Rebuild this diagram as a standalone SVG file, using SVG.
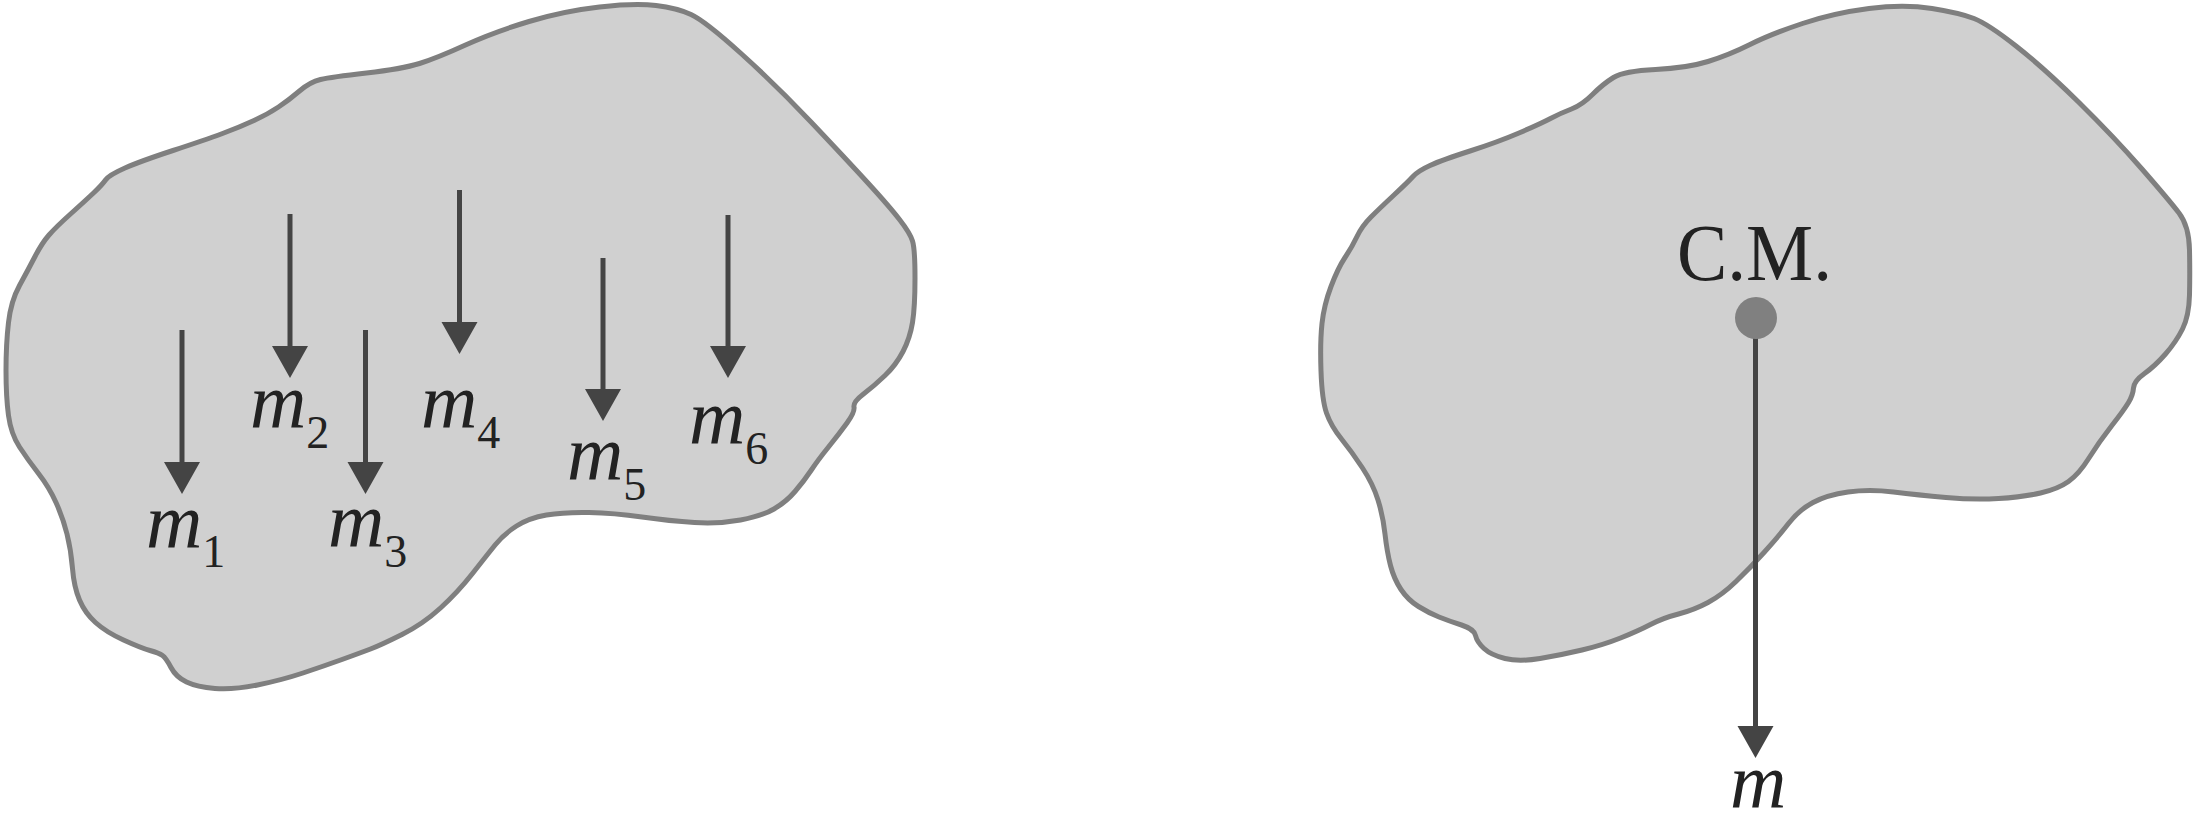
<svg xmlns="http://www.w3.org/2000/svg" width="2196" height="825" viewBox="0 0 2196 825">
<style>
.blob{fill:#d0d0d0;stroke:#7f7f7f;stroke-width:5;stroke-linejoin:round}
.shaft{stroke:#444;stroke-width:5;fill:none}
.head{fill:#444}
.lbl{font-size:78px;font-style:italic;fill:#222}
.sub{font-style:normal;font-size:46px}
.cm{font-size:80px;fill:#222}
</style>
<defs>
<path id="ah" class="head" d="M-18,-32 L18,-32 L0,0 Z"/>
</defs>
<rect width="2196" height="825" fill="#fff"/>
<g id="body-left">
<path class="blob" d="M105.5,180 Q109,175 125,168 Q141,161 173,150.5 Q205,140 222.5,133.5 Q240,127 254,120.5 Q268,114 278.5,107 Q289,100 299.5,91 Q310,82 320.5,79.5 Q331,77 366.5,73 Q402,69 419.5,63.5 Q437,58 465.5,45 Q494,32 529,21.5 Q564,11 599.5,7 Q635,3 656,5.5 Q677,8 691,14.5 Q705,21 740.5,53 Q776,85 811,122 Q846,159 867.5,182.5 Q889,206 899.5,219.5 Q910,233 912.5,241 Q915,249 915,278 Q915,307 912.5,322.5 Q910,338 903,351.5 Q896,365 885,375.5 Q874,386 863.5,394 Q853,402 854,407 Q855,412 847,423 Q839,434 828.5,447 Q818,460 811,470.5 Q804,481 795,491.5 Q786,502 774,509 Q762,516 740.5,520 Q719,524 694.5,522.5 Q670,521 642,517 Q614,513 589,512.5 Q564,512 546.5,515 Q529,518 516.5,526 Q504,534 495.5,544.5 Q487,555 472.5,573.5 Q458,592 440.5,608 Q423,624 402,634.5 Q381,645 370.5,649 Q360,653 342,659.5 Q324,666 303,673 Q282,680 257.5,685 Q233,690 215,688.5 Q197,687 186.5,682 Q176,677 171,667.5 Q166,658 162.5,655.5 Q159,653 150,650.5 Q141,648 123.5,640 Q106,632 95.5,622.5 Q85,613 79.5,600 Q74,587 72.5,568.5 Q71,550 67,534 Q63,518 56,502.5 Q49,487 38.5,473.5 Q28,460 19.5,447 Q11,434 8.5,415.5 Q6,397 6,370.5 Q6,344 8.5,322.5 Q11,301 19.5,285.5 Q28,270 35,256.5 Q42,243 49,235 Q56,227 70.5,214 Q85,201 93.5,193 Q102,185 105.5,180 Z"/>
</g>
<g id="body-right">
<path class="blob" d="M1413,176.5 Q1418,171 1430,165.5 Q1442,160 1470,151 Q1498,142 1519,133 Q1540,124 1550.5,118.5 Q1561,113 1571.5,109 Q1582,105 1592.5,94.5 Q1603,84 1613.5,77.5 Q1624,71 1655.5,69.5 Q1687,68 1708,61.5 Q1729,55 1750,44.5 Q1771,34 1802.5,23.5 Q1834,13 1869,8.5 Q1904,4 1932,8.5 Q1960,13 1974,18.5 Q1988,24 2016,46 Q2044,68 2079,102.5 Q2114,137 2141.5,168.5 Q2169,200 2179,213 Q2189,226 2189.5,250 Q2190,274 2189.5,295 Q2189,316 2182.5,329 Q2176,342 2165.5,354 Q2155,366 2144.5,373.5 Q2134,381 2133.5,388 Q2133,395 2128.5,402.5 Q2124,410 2111.5,426 Q2099,442 2089,458 Q2079,474 2068.5,481.5 Q2058,489 2040.5,493 Q2023,497 1998.5,498.5 Q1974,500 1946,497.5 Q1918,495 1893.5,492 Q1869,489 1848,492 Q1827,495 1813,502.5 Q1799,510 1788.5,523.5 Q1778,537 1764,552.5 Q1750,568 1736,581.5 Q1722,595 1708,602.5 Q1694,610 1678.5,614 Q1663,618 1650.5,624.5 Q1638,631 1620.5,638 Q1603,645 1582,650 Q1561,655 1540,658.5 Q1519,662 1505,658.5 Q1491,655 1484,648.5 Q1477,642 1475.5,635.5 Q1474,629 1461.5,625 Q1449,621 1439,617 Q1429,613 1418.5,606.5 Q1408,600 1401,589.5 Q1394,579 1390.5,565.5 Q1387,552 1385,534 Q1383,516 1378,500 Q1373,484 1362.5,468 Q1352,452 1341.5,439 Q1331,426 1326.5,413 Q1322,400 1321,371 Q1320,342 1322,323.5 Q1324,305 1331,286.5 Q1338,268 1345,257.5 Q1352,247 1357,236.5 Q1362,226 1371,217 Q1380,208 1394,195 Q1408,182 1413,176.5 Z"/>
</g>
<g id="connectors">
<line class="shaft" x1="182" y1="330" x2="182" y2="466"/><use href="#ah" x="182" y="494"/>
<line class="shaft" x1="290" y1="214" x2="290" y2="350"/><use href="#ah" x="290" y="378"/>
<line class="shaft" x1="365.5" y1="330" x2="365.5" y2="466"/><use href="#ah" x="365.5" y="494"/>
<line class="shaft" x1="459.5" y1="190" x2="459.5" y2="326"/><use href="#ah" x="459.5" y="354"/>
<line class="shaft" x1="603" y1="258" x2="603" y2="393"/><use href="#ah" x="603" y="421"/>
<line class="shaft" x1="728" y1="215" x2="728" y2="350"/><use href="#ah" x="728" y="378"/>
<line class="shaft" x1="1755.5" y1="330" x2="1755.5" y2="730"/><use href="#ah" x="1755.5" y="758"/>
</g>
<g id="labels" font-family="Liberation Serif, serif">
<text class="lbl" x="146" y="548">m<tspan class="sub" dy="19">1</tspan></text>
<text class="lbl" x="250" y="428">m<tspan class="sub" dy="20">2</tspan></text>
<text class="lbl" x="328" y="547">m<tspan class="sub" dy="20">3</tspan></text>
<text class="lbl" x="421" y="428">m<tspan class="sub" dy="20">4</tspan></text>
<text class="lbl" x="567" y="480">m<tspan class="sub" dy="20">5</tspan></text>
<text class="lbl" x="689" y="444">m<tspan class="sub" dy="20">6</tspan></text>
</g>
<g id="cm" font-family="Liberation Serif, serif">
<circle cx="1756" cy="318" r="21" fill="#808080"/>
<text class="cm" x="1677" y="280" textLength="155" lengthAdjust="spacingAndGlyphs">C.M.</text>
<text class="lbl" x="1730" y="808" font-size="76">m</text>
</g>
</svg>
